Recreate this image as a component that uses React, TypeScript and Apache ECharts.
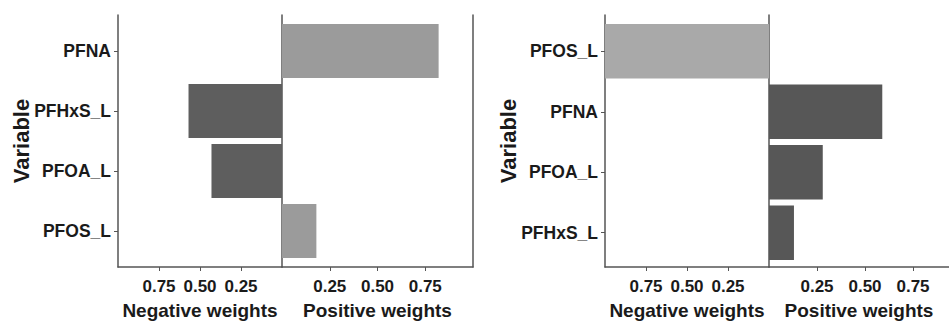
import React, { useEffect, useRef } from "react";
import * as echarts from "echarts";

// Left panel (top-to-bottom order)
const leftCategories = ["PFNA", "PFHxS_L", "PFOA_L", "PFOS_L"];
const leftNegative = [null, 0.57, 0.43, null];
const leftPositive = [0.82, null, null, 0.18];

// Right panel (top-to-bottom order)
const rightCategories = ["PFOS_L", "PFNA", "PFOA_L", "PFHxS_L"];
const rightNegative = [1.0, null, null, null];
const rightPositive = [null, 0.59, 0.28, 0.13];

const tickValues = [0.25, 0.5, 0.75];

const FONT = "'Liberation Sans', Arial, sans-serif";
const AXIS_COLOR = "#555555";
const TEXT_COLOR = "#1a1a1a";

export default function App() {
  const ref = useRef<HTMLDivElement>(null);

  useEffect(() => {
    document.body.style.margin = "0";
    if (!ref.current) return;
    const chart = echarts.init(ref.current, undefined, { renderer: "svg" });

    // outer frames (axis lines, x ticks/labels) and inner plotting bands
    const frames = [
      { left: 118, top: 15, width: 164, height: 252, max: 1, neg: true },
      { left: 282, top: 15, width: 191, height: 252, max: 1, neg: false },
      { left: 605, top: 15, width: 164, height: 254, max: 1, neg: true },
      { left: 769, top: 15, width: 180, height: 254, max: 180 / 192, neg: false },
    ];
    // discrete scale expansion: 0.6 category units on each side of 4 categories
    const inner = frames.map((f) => {
      const unit = f.height / 4.2;
      return { left: f.left, top: f.top + 0.1 * unit, width: f.width, height: 4 * unit };
    });

    const grid = [
      ...frames.map((f) => ({ left: f.left, top: f.top, width: f.width, height: f.height })),
      ...inner,
    ];

    const xAxis: any[] = [];
    frames.forEach((f, i) => {
      xAxis.push({
        type: "value",
        gridIndex: i,
        min: 0,
        max: f.max,
        inverse: f.neg,
        name: f.neg ? "Negative weights" : "Positive weights",
        nameLocation: "middle",
        nameGap: 34,
        nameTextStyle: {
          fontFamily: FONT,
          fontWeight: "bold",
          fontSize: 19,
          color: TEXT_COLOR,
        },
        splitLine: { show: false },
        axisLine: { show: true, lineStyle: { color: AXIS_COLOR, width: 1.5 } },
        axisTick: {
          show: true,
          length: 4,
          customValues: tickValues,
          lineStyle: { color: AXIS_COLOR, width: 1 },
        },
        axisLabel: {
          customValues: tickValues,
          margin: 11,
          fontFamily: FONT,
          fontWeight: "bold",
          fontSize: 17,
          color: TEXT_COLOR,
          formatter: (v: number) => v.toFixed(2),
        },
      });
    });
    frames.forEach((f, i) => {
      xAxis.push({
        type: "value",
        gridIndex: 4 + i,
        min: 0,
        max: f.max,
        inverse: f.neg,
        show: false,
        splitLine: { show: false },
      });
    });

    const lineAxis = (gridIndex: number, data: string[], position: string, name?: string) => ({
      type: "category",
      gridIndex,
      data,
      inverse: true,
      position,
      name: name || "",
      nameLocation: "middle",
      nameRotate: 90,
      nameGap: 86,
      nameTextStyle: {
        fontFamily: FONT,
        fontWeight: "bold",
        fontSize: 22,
        color: TEXT_COLOR,
      },
      axisLine: { show: true, onZero: false, lineStyle: { color: AXIS_COLOR, width: 1.5 } },
      axisTick: { show: false },
      axisLabel: { show: false },
      splitLine: { show: false },
    });

    const bandAxis = (gridIndex: number, data: string[], labels: boolean) => ({
      type: "category",
      gridIndex,
      data,
      inverse: true,
      position: "left",
      axisLine: { show: false, onZero: false },
      axisTick: {
        show: labels,
        alignWithLabel: true,
        length: 4,
        lineStyle: { color: AXIS_COLOR, width: 1 },
      },
      axisLabel: {
        show: labels,
        margin: 7,
        fontFamily: FONT,
        fontWeight: "bold",
        fontSize: 17.5,
        color: TEXT_COLOR,
      },
      splitLine: { show: false },
    });

    const yAxis = [
      lineAxis(0, leftCategories, "left", "Variable"), // 0
      lineAxis(1, leftCategories, "left"), // 1
      lineAxis(1, leftCategories, "right"), // 2
      lineAxis(2, rightCategories, "left", "Variable"), // 3
      lineAxis(3, rightCategories, "left"), // 4
      bandAxis(4, leftCategories, true), // 5
      bandAxis(5, leftCategories, false), // 6
      bandAxis(6, rightCategories, true), // 7
      bandAxis(7, rightCategories, false), // 8
    ];

    const bar = (xi: number, yi: number, data: (number | null)[], color: string) => ({
      type: "bar",
      xAxisIndex: xi,
      yAxisIndex: yi,
      data,
      barCategoryGap: "10%",
      itemStyle: { color },
      silent: true,
    });

    chart.setOption({
      animation: false,
      backgroundColor: "#ffffff",
      grid,
      xAxis,
      yAxis,
      series: [
        bar(4, 5, leftNegative, "#5e5e5e"),
        bar(5, 6, leftPositive, "#9b9b9b"),
        bar(6, 7, rightNegative, "#a9a9a9"),
        bar(7, 8, rightPositive, "#575757"),
      ],
    });

    return () => chart.dispose();
  }, []);

  return <div ref={ref} style={{ width: 949, height: 325 }} />;
}
